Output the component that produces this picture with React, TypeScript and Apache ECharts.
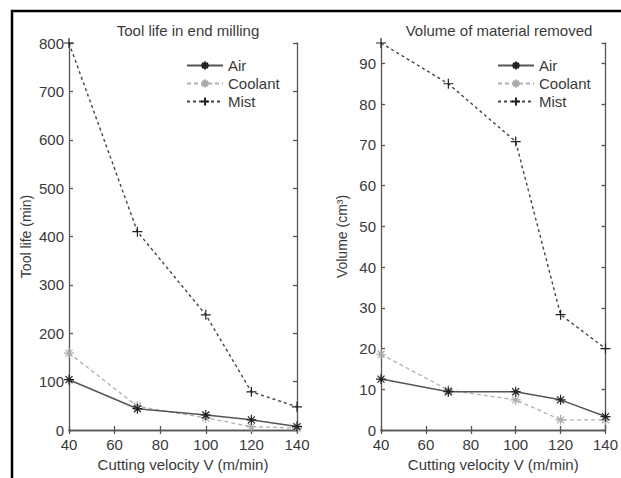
import React, { useEffect, useRef } from "react";
import * as echarts from "echarts";

const velocity = [40, 70, 100, 120, 140];
const toolLifeAir = [104, 44, 31, 21, 7];
const toolLifeCoolant = [159, 49, 25, 7, 4];
const toolLifeMist = [800, 410, 238, 79, 48];
const volumeAir = [12.5, 9.4, 9.4, 7.4, 3.3];
const volumeCoolant = [18.6, 9.8, 7.4, 2.5, 2.5];
const volumeMist = [95, 85, 70.8, 28.3, 20];
const seriesNames = ["Air", "Coolant", "Mist"];
const titles = ["Tool life in end milling", "Volume of material removed"];
const yNames = ["Tool life (min)", "Volume (cm³)"];
const xName = "Cutting velocity V (m/min)";

const FONT = "Liberation Sans";
const STAR = "path://M5,0L5,10M0,5L10,5M1.5,1.5L8.5,8.5M1.5,8.5L8.5,1.5";
const PLUS = "path://M5,0L5,10M0,5L10,5";

const zip = (ys: number[]) => velocity.map((v, i) => [v, ys[i]]);

export default function App() {
  const ref = useRef<HTMLDivElement>(null);
  useEffect(() => {
    const chart = echarts.init(ref.current!, null, { renderer: "svg" });
    const axisColor = "#555";
    const textColor = "#3a3a3a";
    const grids = [
      { left: 69, top: 43, width: 228, height: 387 },
      { left: 381, top: 43, width: 227, height: 387 },
    ];
    const xAxes: any[] = [];
    const yAxes: any[] = [];
    const yMax = [800, 95];
    const yInt = [100, 10];
    const yGap = [36, 32];
    const line = { color: axisColor, width: 1.3 };
    [0, 1].forEach((g) => {
      xAxes.push({
        type: "value", gridIndex: g, min: 40, max: 140, interval: 20, position: "bottom",
        name: xName, nameLocation: "middle", nameGap: 23,
        nameTextStyle: { fontFamily: FONT, fontSize: 15, color: textColor },
        axisLine: { lineStyle: line },
        axisTick: { inside: true, length: 4, lineStyle: line },
        axisLabel: { fontFamily: FONT, fontSize: 15, color: textColor, margin: 7 },
        splitLine: { show: false },
      });
      xAxes.push({
        type: "value", gridIndex: g, min: 40, max: 140, interval: 20, position: "top",
        axisLine: { show: true, lineStyle: line },
        axisTick: { inside: true, length: 4, lineStyle: line },
        axisLabel: { show: false }, splitLine: { show: false },
      });
      yAxes.push({
        type: "value", gridIndex: g, min: 0, max: yMax[g], interval: yInt[g], position: "left",
        name: yNames[g], nameLocation: "middle", nameGap: yGap[g],
        nameTextStyle: { fontFamily: FONT, fontSize: 14, color: textColor },
        axisLine: { show: true, lineStyle: line },
        axisTick: { show: true, inside: true, length: 4, lineStyle: line },
        axisLabel: { fontFamily: FONT, fontSize: 15, color: textColor, margin: 5, showMaxLabel: g === 0 },
        splitLine: { show: false },
      });
      yAxes.push({
        type: "value", gridIndex: g, min: 0, max: yMax[g], interval: yInt[g], position: "right",
        axisLine: { show: true, lineStyle: line },
        axisTick: { show: true, inside: true, length: 4, lineStyle: line },
        axisLabel: { show: false }, splitLine: { show: false },
      });
    });
    const mk = (name: string, data: number[], g: number) => {
      const style: any = {
        Air: { color: "#222", symbol: STAR, line: { color: "#555", width: 1.5, type: "solid" } },
        Coolant: { color: "#aaa", symbol: STAR, line: { color: "#b0b0b0", width: 1.3, type: [4, 3] } },
        Mist: { color: "#222", symbol: PLUS, line: { color: "#444", width: 1.4, type: [3, 3] } },
      }[name];
      return {
        name, type: "line", xAxisIndex: g * 2, yAxisIndex: g * 2, data: zip(data),
        symbol: style.symbol, symbolSize: 10, showSymbol: true,
        lineStyle: style.line,
        itemStyle: { color: style.color, borderColor: style.color, borderWidth: 1.2 },
        z: name === "Air" ? 3 : 2,
      };
    };
    const legendBase = {
      data: seriesNames, orient: "vertical", itemWidth: 36, itemHeight: 10, itemGap: 3,
      textStyle: { fontFamily: FONT, fontSize: 15, color: textColor }, selectedMode: false,
    };
    const titleStyle = { fontFamily: FONT, fontSize: 15, fontWeight: "normal", color: textColor };
    chart.setOption({
      animation: false,
      backgroundColor: "#fff",
      title: [
        { text: titles[0], left: 183, top: 18, textAlign: "center", textStyle: titleStyle },
        { text: titles[1], left: 494, top: 18, textAlign: "center", textStyle: titleStyle },
      ],
      legend: [
        { ...legendBase, left: 181, top: 53 },
        { ...legendBase, left: 492, top: 53 },
      ],
      grid: grids,
      xAxis: xAxes,
      yAxis: yAxes,
      series: [
        mk("Air", toolLifeAir, 0), mk("Coolant", toolLifeCoolant, 0), mk("Mist", toolLifeMist, 0),
        mk("Air", volumeAir, 1), mk("Coolant", volumeCoolant, 1), mk("Mist", volumeMist, 1),
      ],
      graphic: [
        { type: "polyline", shape: { points: [[12, 478], [12, 11], [621, 11]] }, style: { stroke: "#000", lineWidth: 2.5, fill: "none" }, silent: true },
      ],
    });
    return () => chart.dispose();
  }, []);
  return <div ref={ref} style={{ position: "fixed", left: 0, top: 0, width: 621, height: 478 }} />;
}
